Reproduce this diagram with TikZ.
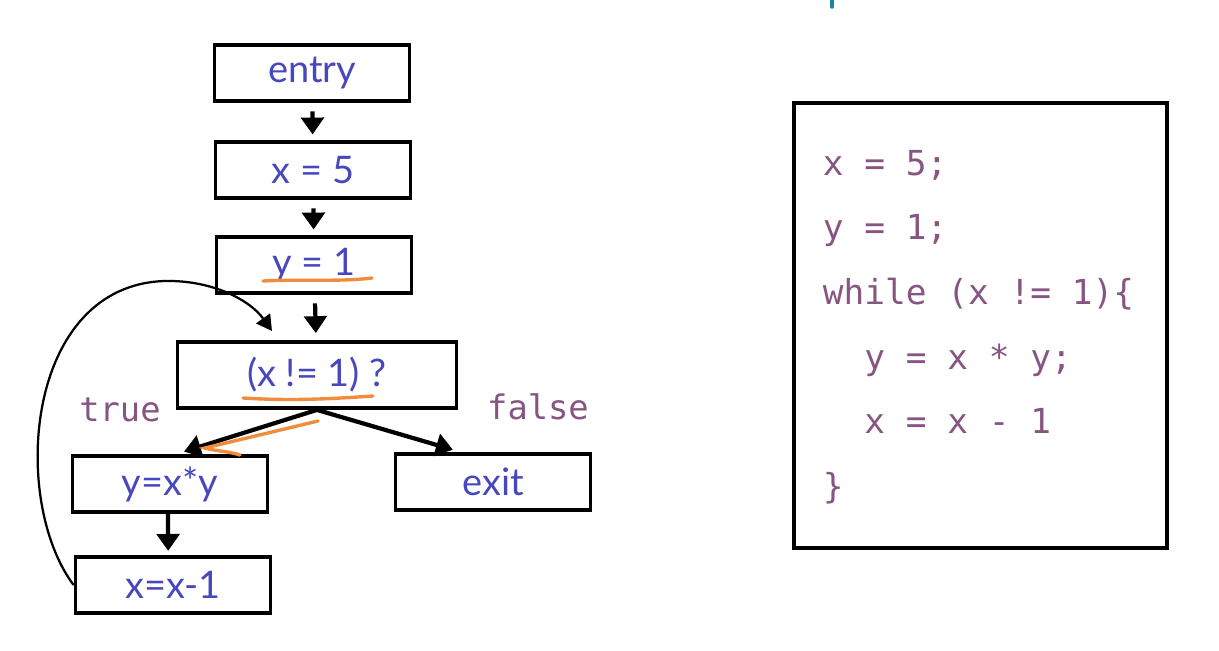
\documentclass[tikz,border=0pt]{standalone}
\usepackage{fontspec}
\usepackage{tikz}
\usetikzlibrary{arrows.meta}
\setmainfont{Lato}
\setmonofont{DejaVu Sans Mono}

\definecolor{stmtblue}{RGB}{72,72,190}
\definecolor{codepurple}{RGB}{135,85,130}
\definecolor{markorange}{RGB}{240,140,60}
\definecolor{titleteal}{RGB}{30,130,160}

\tikzset{
  blk/.style={draw, line width=2.7pt, minimum width=4.875cm, minimum height=1.4cm,
    text=stmtblue, font=\fontsize{27}{30}\selectfont, inner sep=0pt},
  flow/.style={line width=3pt, -{Triangle[width=16pt,length=12pt]}},
  back/.style={line width=1.6pt, -{Triangle[width=12pt,length=11pt]}},
  hilite/.style={markorange, line width=2.4pt, line cap=round},
  lbl/.style={text=codepurple, font=\ttfamily\fontsize{24}{28}\selectfont}
}

\begin{document}
\begin{tikzpicture}[x=0.025cm, y=-0.025cm]
  \useasboundingbox (0,0) rectangle (1219,651);

  % cut-off title stroke
  \draw [titleteal, line width=2.5pt, line cap=round] (832,0) -- (832,7);

  % flow graph
  \node[blk] (entry) at (312,73) {entry};
  \node[blk] (xfive) at (313,170) {x = 5};
  \node[blk] (yone) at (314,265) {y = 1};
  \node[blk, minimum width=6.975cm, minimum height=1.65cm] (cond) at (317,375) {(x != 1) ?};
  \node[blk] (ymul) at (170,484) {y=x*y};
  \node[blk] (exit) at (493,482) {exit};
  \node[blk] (xdec) at (173,585) {x=x-1};

  \draw [flow, shorten <=6pt, shorten >=4pt] (entry) -- (xfive);
  \draw [flow, shorten <=6pt, shorten >=4pt] (xfive) -- (yone);
  \draw [flow, shorten <=6pt, shorten >=5pt] (yone) -- (cond);
  \draw [flow, shorten >=6pt] (cond.south) -- ([xshift=0.15cm]ymul.north);
  \draw [flow, shorten >=6pt] (cond.south) -- ([xshift=-0.8cm]exit.north);
  \draw [flow, shorten >=3pt] ([xshift=-0.05cm]ymul.south) -- ([xshift=-0.12cm]xdec.north);

  \coordinate (loopend) at (272,331);
  \draw [back] (xdec.west) .. controls (10,500) and (25,285) .. (165,281)
    .. controls (212,280) and (250,300) .. (loopend);

  \node[lbl] (ltrue) at (120,410) {true};
  \node[lbl] (lfalse) at (538,407) {false};

  % orange marks
  \draw [hilite] (263,281) .. controls (300,279) and (340,282) .. (372,278);
  \draw [hilite] (243,398) .. controls (290,401) and (330,399) .. (373,396);
  \draw [hilite] (318,421) -- (205,448) .. controls (214,451) and (228,451) .. (240,455);

  % source code
  \node[draw, line width=2.7pt, minimum width=9.325cm, minimum height=11.125cm] (code) at (980.5,325.5) {};
  \node[lbl, anchor=north west, align=left, font=\ttfamily\fontsize{24.5}{46}\selectfont] (src) at (818,145)
    {x = 5;\\y = 1;\\while (x != 1)\{\\\phantom{xx}y = x * y;\\\phantom{xx}x = x - 1\\\}};
\end{tikzpicture}
\end{document}
